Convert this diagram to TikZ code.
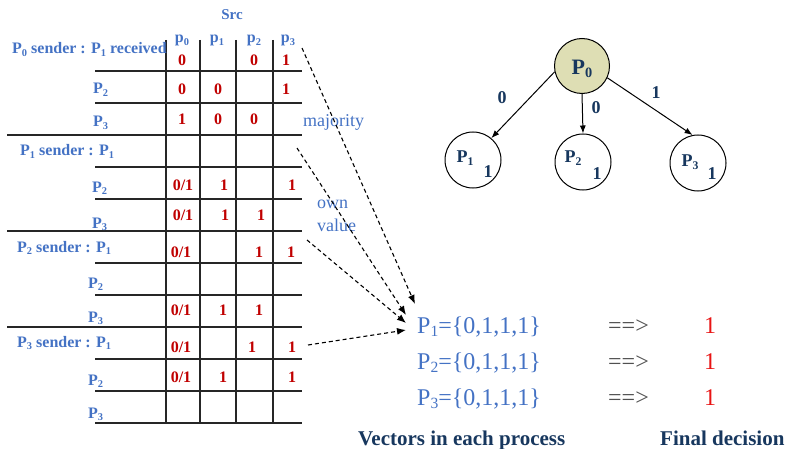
\documentclass[tikz,border=0pt]{standalone}
\usepackage{fontspec}
\setmainfont{Liberation Serif}
\usetikzlibrary{arrows.meta}
\definecolor{lblue}{RGB}{68,114,196}
\definecolor{vred}{RGB}{192,0,0}
\definecolor{bred}{RGB}{232,20,20}
\definecolor{navy}{RGB}{23,55,94}
\definecolor{olive}{RGB}{222,222,180}
\definecolor{arrgray}{RGB}{80,80,80}
\makeatletter
\newdimen\subsz
% subscript scaled from the current font size
\newcommand\dn[1]{{\subsz=\f@size pt\subsz=0.65\subsz
  \raisebox{-0.35ex}{\fontsize{\strip@pt\subsz}{\strip@pt\subsz}\selectfont #1}}}
\makeatother
\tikzset{
  gridline/.style={line width=1.3pt, black!85},
  lab/.style={text=lblue, font=\fontsize{16}{16}\selectfont\bfseries, anchor=base west, inner sep=0pt},
  hdr/.style={text=lblue, font=\fontsize{16}{16}\selectfont\bfseries, anchor=base, inner sep=0pt},
  val/.style={text=vred, font=\fontsize{16}{16}\selectfont\bfseries, anchor=base, inner sep=0pt},
  note/.style={text=lblue, font=\fontsize{18}{18}\selectfont, anchor=base west, inner sep=0pt},
  vec/.style={text=lblue, font=\fontsize{24}{24}\selectfont, anchor=base west, inner sep=0pt},
  impl/.style={text=arrgray, font=\fontsize{24}{24}\selectfont, anchor=base west, inner sep=0pt},
  dec/.style={text=bred, font=\fontsize{24}{24}\selectfont, anchor=base, inner sep=0pt},
  caption/.style={text=navy, font=\fontsize{21}{21}\selectfont\bfseries, anchor=base west, inner sep=0pt},
  dasharrow/.style={dash pattern=on 4pt off 3pt, line width=1.1pt, -{Latex[length=9pt,width=7pt]}},
  gcirc/.style={circle, draw=black, line width=1pt, minimum size=56pt, inner sep=0pt},
  glab/.style={text=navy, font=\fontsize{18}{18}\selectfont\bfseries, inner sep=0pt},
  edgelab/.style={text=navy, font=\fontsize{18}{18}\selectfont\bfseries, inner sep=0pt},
  gedge/.style={line width=1pt, -{Latex[length=8pt,width=6pt]}},
}
\begin{document}
\begin{tikzpicture}[x=1pt,y=-1pt]
\useasboundingbox (0,0) rectangle (786,449);

% ---- table grid ----
\foreach \y in {71,103,167,199,263,295,359,391,423}
  \draw[gridline] (95,\y) -- (302,\y);
\foreach \y in {135,231,327}
  \draw[gridline] (7,\y) -- (302,\y);
\foreach \x in {166,200,236,273}
  \draw[gridline] (\x,40) -- (\x,423);

% ---- column headers ----
\node[hdr, font=\fontsize{15}{15}\selectfont\bfseries] (src) at (232,20) {Src};
\node[hdr] (h0) at (182,43) {p\dn0};
\node[hdr] (h1) at (217,43) {p\dn1};
\node[hdr] (h2) at (254,43) {p\dn2};
\node[hdr] (h3) at (288,43) {p\dn3};

% ---- row labels ----
\node[lab] (r0) at (12,54) {P\dn0 sender : P\dn1 received};
\node[lab] (r1) at (93,94) {P\dn2};
\node[lab] (r2) at (93,127) {P\dn3};
\node[lab] (r3) at (20,156) {P\dn1 sender : P\dn1};
\node[lab] (r4) at (92,192) {P\dn2};
\node[lab] (r5) at (92,228) {P\dn3};
\node[lab] (r6) at (17,252) {P\dn2 sender : P\dn1};
\node[lab] (r7) at (88,288) {P\dn2};
\node[lab] (r8) at (88,322) {P\dn3};
\node[lab] (r9) at (17,347) {P\dn3 sender : P\dn1};
\node[lab] (r10) at (88,385) {P\dn2};
\node[lab] (r11) at (88,418) {P\dn3};

% ---- table values ----
\node[val] (a1) at (182,66) {0};
\node[val] (a2) at (254,66) {0};
\node[val] (a3) at (286,66) {1};
\node[val] (b1) at (182,95) {0};
\node[val] (b2) at (218,95) {0};
\node[val] (b3) at (286,95) {1};
\node[val] (c1) at (182,125) {1};
\node[val] (c2) at (218,125) {0};
\node[val] (c3) at (254,125) {0};
\node[val] (d1) at (183,190) {0/1};
\node[val] (d2) at (224,190) {1};
\node[val] (d3) at (292,190) {1};
\node[val] (e1) at (183,220) {0/1};
\node[val] (e2) at (225,220) {1};
\node[val] (e3) at (261,220) {1};
\node[val] (f1) at (181,257) {0/1};
\node[val] (f2) at (259,257) {1};
\node[val] (f3) at (291,257) {1};
\node[val] (g1) at (181,315) {0/1};
\node[val] (g2) at (223,315) {1};
\node[val] (g3) at (259,315) {1};
\node[val] (k1) at (181,352) {0/1};
\node[val] (k2) at (252,352) {1};
\node[val] (k3) at (292,352) {1};
\node[val] (m1) at (181,382) {0/1};
\node[val] (m2) at (223,382) {1};
\node[val] (m3) at (292,382) {1};

% ---- annotations ----
\node[note] (maj) at (303,127) {majority};
\node[note] (own) at (317,208) {own};
\node[note] (valu) at (317,231) {value};

% ---- vectors and decisions ----
\node[vec] (v1) at (417,333) {P\dn1=\{0,1,1,1\}};
\node[vec] (v2) at (417,369) {P\dn2=\{0,1,1,1\}};
\node[vec] (v3) at (417,405) {P\dn3=\{0,1,1,1\}};
\node[impl] (i1) at (608,333) {==>};
\node[impl] (i2) at (608,369) {==>};
\node[impl] (i3) at (608,405) {==>};
\node[dec] (d1v) at (710,333) {1};
\node[dec] (d2v) at (710,369) {1};
\node[dec] (d3v) at (710,405) {1};
\node[caption] (capv) at (358,445) {Vectors in each process};
\node[caption] (capd) at (660,445) {Final decision};

% ---- dashed arrows from the table to P1's vector ----
\coordinate (s1) at (302,48);
\coordinate (s2) at (297,148);
\coordinate (s3) at (307,240);
\coordinate (s4) at (308,345);
\coordinate (t1) at (415,304);
\coordinate (t2) at (406,315);
\coordinate (t3) at (406,323);
\coordinate (t4) at (406,330);
\draw[dasharrow] (s1) -- (t1);
\draw[dasharrow] (s2) -- (t2);
\draw[dasharrow] (s3) -- (t3);
\draw[dasharrow] (s4) -- (t4);

% ---- process graph ----
\node[gcirc, fill=olive, minimum size=55pt] (p0) at (582,66) {};
\node[gcirc] (p1) at (473,160) {};
\node[gcirc] (p2) at (583,162) {};
\node[gcirc] (p3) at (698,163) {};
\node[glab, font=\fontsize{22}{22}\selectfont\bfseries] (p0l) at (582,69) {P\dn0};
\node[glab] (p1l) at (465,158) {P\dn1};
\node[glab] (p1v) at (488,172) {1};
\node[glab] (p2l) at (573,158) {P\dn2};
\node[glab] (p2v) at (597,174) {1};
\node[glab] (p3l) at (690,162) {P\dn3};
\node[glab] (p3v) at (712,174) {1};
\draw[gedge] (p0.192) -- (p1.50);
\draw[gedge] (p0.south) -- (p2.north);
\draw[gedge] (p0.335) -- (p3.101);
\node[edgelab] (e01) at (502,98) {0};
\node[edgelab] (e02) at (596,108) {0};
\node[edgelab] (e03) at (656,93) {1};
\end{tikzpicture}
\end{document}
